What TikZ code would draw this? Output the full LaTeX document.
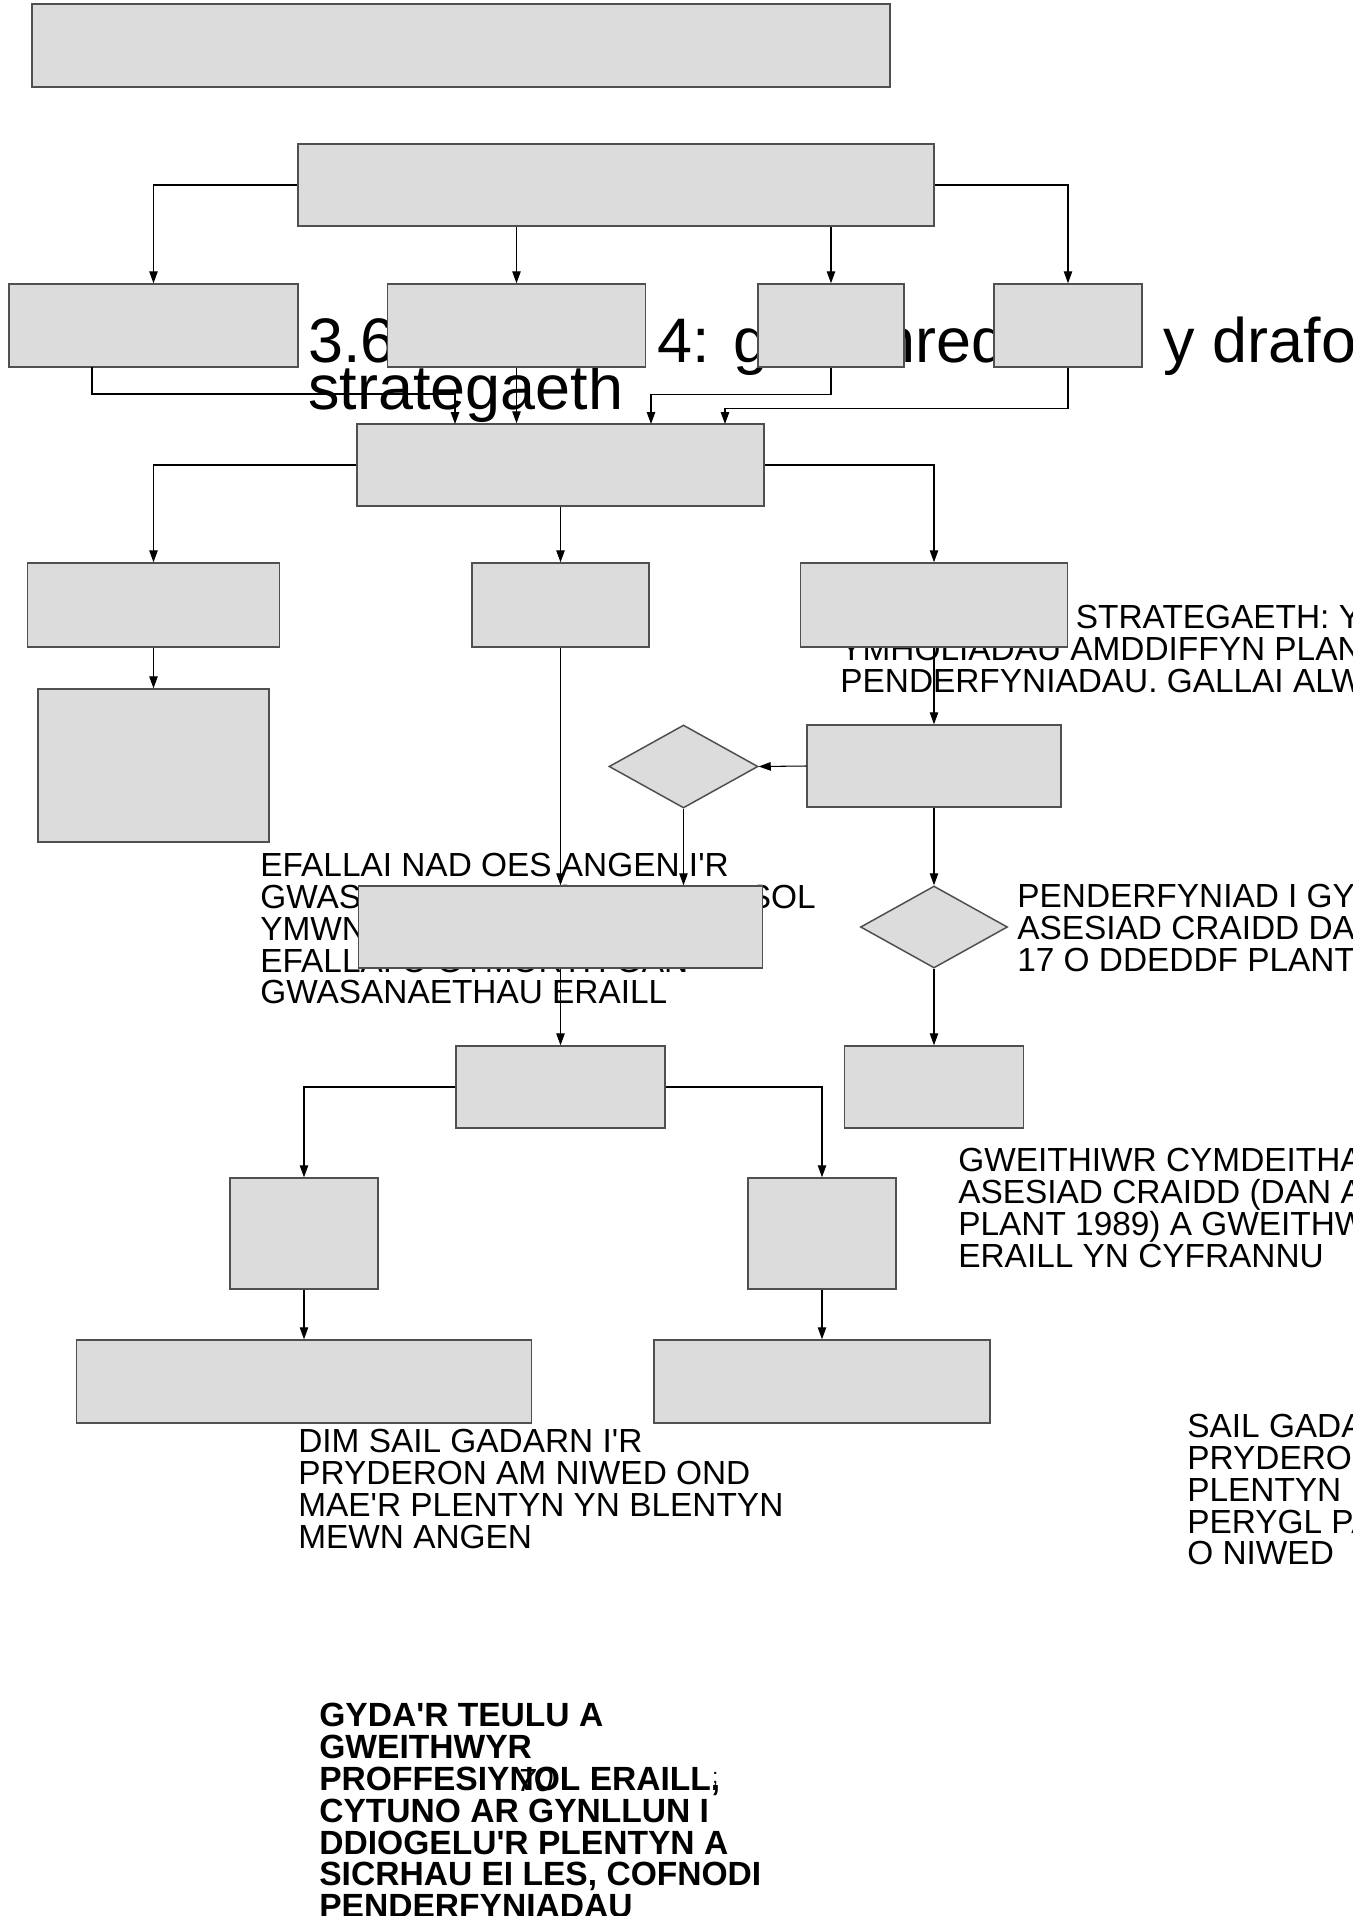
\documentclass[tikz,border=0pt]{standalone}
\usepackage{fontspec}
\setmainfont{Liberation Sans}[Ligatures=TeXOff]
\usetikzlibrary{shapes.geometric,arrows.meta,positioning}
\setlength{\lineskiplimit}{-100pt}
\definecolor{boxGrey}{RGB}{220,220,220}
\definecolor{edgeGrey}{RGB}{80,80,80}
\tikzset{
        % Grey process boxes
        node_box/.style={rectangle, draw=edgeGrey, fill=boxGrey, line width=0.3mm, inner sep=0pt},
        % Decision diamonds
        node_decision/.style={diamond, draw=edgeGrey, fill=boxGrey, line width=0.3mm, inner sep=0pt},
        % Loose text
        node_note/.style={anchor=north west, align=left, inner sep=0pt, font=\fontsize{19}{18.1}\selectfont},
        node_note_bold/.style={node_note, font=\fontsize{19.1}{18.1}\selectfont\bfseries},
        % Connectors
        flow_arrow/.style={-{Triangle[length=2.4mm,width=1.7mm]}, line width=0.6pt}
}
\begin{document}
\begin{tikzpicture}[x=0.2mm, y=-0.2mm]
    \path[use as bounding box, fill=white] (0,0) rectangle (1353,1916);

    % text lying under the boxes
    \node[node_note, font=\fontsize{35.8}{26.7}\selectfont] (title) at (308,317) {3.6 Siart Llif 4: gweithredu am y drafodaeth\\strategaeth};
    \node[node_note] (note_strat) at (840,605) {TRAFODAETH STRATEGAETH: Y\\YMHOLIADAU AMDDIFFYN PLANT\\PENDERFYNIADAU. GALLAI ALW};
    \node[node_note] (note_efallai) at (260,853) {EFALLAI NAD OES ANGEN I'R\\GWASANAETHAU CYMDEITHASOL\\YMWNEUD Â'R ACHOS\\EFALLAI O GYMORTH GAN\\GWASANAETHAU ERAILL};
    \node[node_note] (note_s17) at (1017,884) {PENDERFYNIAD I GYNNAL\\ASESIAD CRAIDD DAN\\17 O DDEDDF PLANT};
    \node[node_note] (note_core) at (958,1148) {GWEITHIWR CYMDEITHASOL\\ASESIAD CRAIDD (DAN ADRAN\\PLANT 1989) A GWEITHWYR\\ERAILL YN CYFRANNU};
    \node[node_note] (note_need) at (298,1429) {DIM SAIL GADARN I'R\\PRYDERON AM NIWED OND\\MAE'R PLENTYN YN BLENTYN\\MEWN ANGEN};
    \node[node_note] (note_harm) at (1187,1414) {SAIL GADARN I'R\\PRYDERON\\PLENTYN MEWN\\PERYGL PARHAUS\\O NIWED};
    \node[node_note_bold] (note_plan) at (319,1703) {GYDA'R TEULU A\\GWEITHWYR\\PROFFESIYNOL ERAILL,\\CYTUNO AR GYNLLUN I\\DDIOGELU'R PLENTYN A\\SICRHAU EI LES, COFNODI\\PENDERFYNIADAU};
    \node[node_note, font=\fontsize{18.2}{18.2}\selectfont\itshape] (page_no) at (517,1769) {70};
    \node[node_note, font=\fontsize{12}{12}\selectfont] (mark) at (712,1772) {;};

    % boxes
    \node[node_box, minimum width=171.6mm, minimum height=16.6mm] (a) at (461,45.5) {};
    \node[node_box, minimum width=127.2mm, minimum height=16.4mm] (b) at (616,185) {};
    \node[node_box, minimum width=57.8mm, minimum height=16.6mm] (c1) at (153.5,325.5) {};
    \node[node_box, minimum width=51.6mm, minimum height=16.6mm] (c2) at (516.5,325.5) {};
    \node[node_box, minimum width=29.2mm, minimum height=16.6mm] (c3) at (831,325.5) {};
    \node[node_box, minimum width=29.6mm, minimum height=16.6mm] (c4) at (1068,325.5) {};
    \node[node_box, minimum width=81.4mm, minimum height=16.4mm] (d) at (560.5,465) {};
    \node[node_box, minimum width=50.4mm, minimum height=16.8mm] (e1) at (153.5,605) {};
    \node[node_box, minimum width=35.4mm, minimum height=16.8mm] (e2) at (560.5,605) {};
    \node[node_box, minimum width=53.4mm, minimum height=16.8mm] (e3) at (934,605) {};
    \node[node_box, minimum width=46.2mm, minimum height=30.6mm] (f1) at (153.5,765.5) {};
    \node[node_box, minimum width=50.8mm, minimum height=16.4mm] (h) at (934,766) {};
    \node[node_decision, minimum width=29.8mm, minimum height=16.6mm] (dia1) at (683.5,766.5) {};
    \node[node_box, minimum width=80.8mm, minimum height=16.4mm] (g) at (560.5,927) {};
    \node[node_decision, minimum width=29.4mm, minimum height=16.4mm] (dia2) at (934,927) {};
    \node[node_box, minimum width=41.8mm, minimum height=16.4mm] (j) at (560.5,1087) {};
    \node[node_box, minimum width=35.8mm, minimum height=16.4mm] (i) at (934,1087) {};
    \node[node_box, minimum width=29.6mm, minimum height=22.2mm] (k1) at (304,1233.5) {};
    \node[node_box, minimum width=29.6mm, minimum height=22.2mm] (k2) at (822,1233.5) {};
    \node[node_box, minimum width=91mm, minimum height=16.6mm] (l1) at (304,1381.5) {};
    \node[node_box, minimum width=67.2mm, minimum height=16.6mm] (l2) at (822,1381.5) {};

    % entry points on d
    \coordinate (c1_out) at (92,367);
    \coordinate (d_in1) at (455,424);
    \coordinate (d_in3) at (651,424);
    \coordinate (d_in4) at (725,424);

    % connectors
    \draw[flow_arrow] (b.west) -| (c1.north);
    \draw[flow_arrow] (b.south -| c2.north) -- (c2.north);
    \draw[flow_arrow] (b.south -| c3.north) -- (c3.north);
    \draw[flow_arrow] (b.east) -| (c4.north);
    \draw[flow_arrow] (c1_out) -- ++(0,27) -| (d_in1);
    \draw[flow_arrow] (c2.south) -- (c2.south |- d.north);
    \draw[flow_arrow] (c3.south) -- ++(0,27) -| (d_in3);
    \draw[flow_arrow] (c4.south) -- ++(0,41) -| (d_in4);
    \draw[flow_arrow] (d.west) -| (e1.north);
    \draw[flow_arrow] (d.south) -- (e2.north);
    \draw[flow_arrow] (d.east) -| (e3.north);
    \draw[flow_arrow] (e1.south) -- (f1.north);
    \draw[flow_arrow] (e2.south) -- (g.north);
    \draw[flow_arrow] (e3.south) -- (h.north);
    \draw[flow_arrow] (h.west) -- (dia1.east);
    \draw[flow_arrow] (dia1.south) -- (dia1.south |- g.north);
    \draw[flow_arrow] (h.south) -- (dia2.north);
    \draw[flow_arrow] (dia2.south) -- (i.north);
    \draw[flow_arrow] (g.south) -- (j.north);
    \draw[flow_arrow] (j.west) -| (k1.north);
    \draw[flow_arrow] (j.east) -| (k2.north);
    \draw[flow_arrow] (k1.south) -- (l1.north);
    \draw[flow_arrow] (k2.south) -- (l2.north);
\end{tikzpicture}
\end{document}
